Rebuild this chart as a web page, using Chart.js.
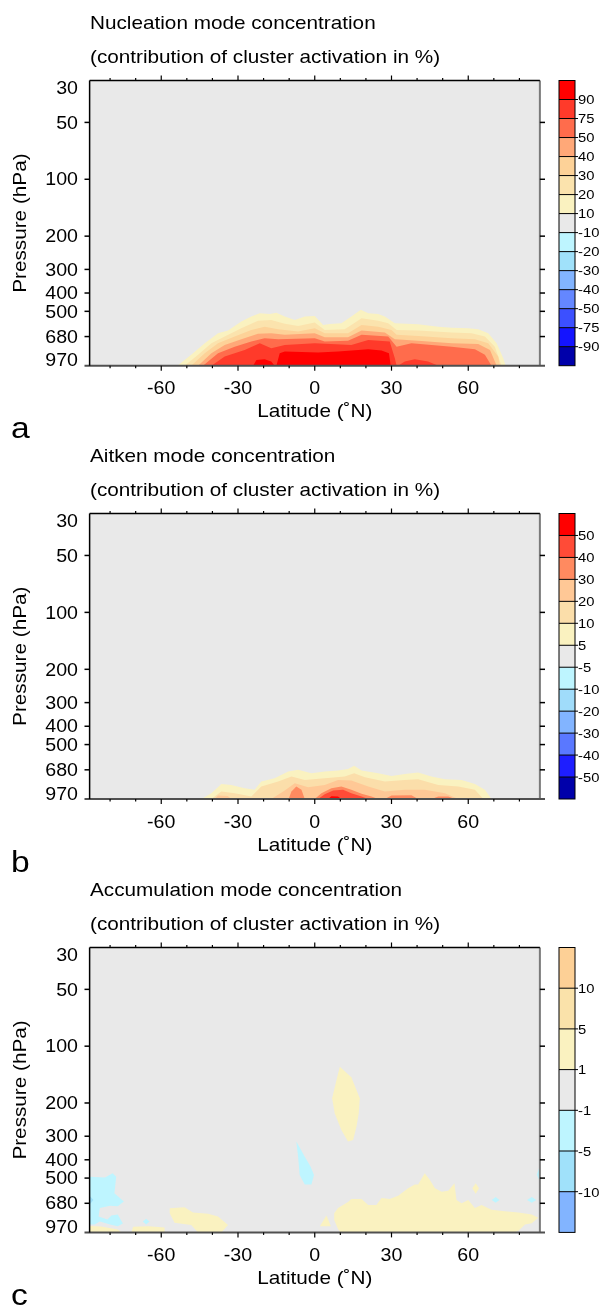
<!DOCTYPE html>
<html><head><meta charset="utf-8">
<script src="https://cdn.jsdelivr.net/npm/chart.js@4.4.1/dist/chart.umd.min.js"></script>
<style>
html,body{margin:0;padding:0;background:#fff;}
#wrap{position:relative;width:603px;height:1306px;overflow:hidden;background:#fff;}
canvas{position:absolute;left:0;}
</style></head><body>
<div id="wrap">
<canvas id="ca" width="603" height="448" style="top:0px"></canvas>
<canvas id="cb" width="603" height="448" style="top:433px"></canvas>
<canvas id="cc" width="603" height="439" style="top:867px"></canvas>
</div>
<script>
// ---------- axes ----------
const LAT_RANGE = [-90, 90];
const LAT_DOMAIN = [-88, 88];
const P_RANGE = [30, 970];
const Y_TICKS = [30, 50, 100, 200, 300, 400, 500, 680, 970];
const X_TICKS = [-60, -30, 0, 30, 60];
const X_MINOR_STEP = 10;

// ---------- panel a: nucleation mode (contour polygons: [lat, hPa]) ----------
const A_TITLE = ['Nucleation mode concentration', '(contribution of cluster activation in %)'];
const A_CB_LABELS = ['90','75','50','40','30','20','10','-10','-20','-30','-40','-50','-75','-90'];
const A_CB_COLORS = ['#ff0000','#ff3a2a','#ff6c4c','#ffa878','#fdd298','#fbe3ad','#faf2c0','#e9e9e9','#bef5ff','#a0e1fa','#82b4ff','#6487ff','#3c50ff','#1414ff','#0000aa'];
const NUC_10 = [[-53.7,970],[-48.3,850],[-43,738],[-37.8,653],[-33.9,632],[-28.7,566],[-24.8,533],[-21.5,512],[-17.6,516],[-15,508],[-11.7,533],[-7.8,555],[-3.9,533],[0,529],[3.3,590],[5.9,584],[10.4,578],[14.3,533],[18,491],[20.9,512],[24.8,516],[27.4,533],[31.3,578],[40.4,585],[48.3,603],[53.5,610],[60,615],[63.9,622],[67.8,653],[71.1,738],[73.7,886],[74.6,970]];
const NUC_20 = [[-50.9,970],[-45.6,850],[-40.4,738],[-35.2,680],[-28.7,615],[-22.2,560],[-17,555],[-11.7,582],[-6.5,598],[0,573],[3.9,627],[11.7,622],[14.3,590],[18.3,544],[24.8,560],[28.7,578],[32,627],[40.4,632],[53.5,648],[61.3,653],[66.5,680],[70.4,769],[73,970]];
const NUC_30 = [[-48.3,970],[-43,833],[-37.8,738],[-31.3,680],[-24.8,627],[-19.6,603],[-14.3,622],[-6.5,640],[0,615],[3.9,653],[13,653],[18.3,590],[24.8,603],[30,627],[32,666],[40.4,675],[53.5,694],[62.6,702],[67.8,738],[71.7,868],[72.4,970]];
const NUC_40 = [[-45.6,970],[-40.4,833],[-35.2,753],[-28.7,703],[-22.2,658],[-17,653],[-11.7,666],[0,653],[3.9,686],[13,686],[18.3,632],[27.4,648],[31.3,703],[40.4,715],[53.5,738],[63.9,744],[68.5,800],[71.1,970]];
const NUC_50 = [[-43.7,970],[-37.8,833],[-31.3,769],[-24.8,723],[-19.6,694],[-14.3,703],[0,694],[3.9,723],[13,715],[18.3,666],[28.7,680],[32,769],[37.8,738],[53.5,769],[62.6,794],[66.5,850],[69.1,970]];
const NUC_75_A = [[-40.4,970],[-35.2,868],[-27.4,800],[-21.5,738],[-17,784],[-11.7,753],[0,738],[14.3,753],[20.9,709],[29.3,723],[31.3,886],[32,970]];
const NUC_75_B = [[32.6,970],[35.2,922],[39.1,897],[44.3,922],[48.3,970]];
const NUC_90_A = [[-15,970],[-13.7,833],[-11.7,816],[1.3,826],[9.1,816],[17,800],[20.9,794],[26.1,806],[29,833],[29.7,970]];
const NUC_90_B = [[-24.1,970],[-22.8,904],[-19.6,897],[-17,922],[-15.7,970]];

// ---------- panel b: Aitken mode ----------
const B_TITLE = ['Aitken mode concentration', '(contribution of cluster activation in %)'];
const B_CB_LABELS = ['50','40','30','20','10','5','-5','-10','-20','-30','-40','-50'];
const B_CB_COLORS = ['#ff0000','#ff4b37','#ff8a60','#ffc896','#fbdeaa','#faf2c0','#e9e9e9','#bef5ff','#a0dcfa','#82b4ff','#5a78ff','#1e1eff','#0000aa'];
const AIT_5 = [[-44.3,970],[-40.4,904],[-36.5,807],[-32.6,817],[-27.4,850],[-23.5,868],[-20.9,784],[-15.7,753],[-10.4,694],[-6.5,680],[-1.3,709],[3.9,694],[9.1,686],[13,674],[15.4,648],[18.3,686],[24.8,709],[30,732],[35.2,715],[40.4,703],[45.6,738],[50.9,763],[57.4,769],[62.6,807],[66.5,868],[69.1,970]];
const AIT_10 = [[-40.4,970],[-36.5,886],[-31.3,904],[-24.8,941],[-20.9,833],[-14.3,784],[-9.1,738],[-3.9,769],[3.9,753],[11.7,738],[15.4,709],[19.6,744],[27.4,784],[35.2,769],[40.4,763],[48.3,817],[56.1,833],[62.6,868],[65.9,970]];
const AIT_20_A = [[-17,970],[-12,880],[-7.8,800],[-2.6,840],[3.9,817],[9.1,769],[14.3,775],[20.9,833],[27.4,886],[35.2,868],[43,868],[50.9,904],[56.1,970]];
const AIT_20_B = [[-39.1,970],[-37.8,930],[-34,935],[-32.6,970]];
const AIT_30_A = [[-10.2,970],[-9.1,886],[-7.2,833],[-5.2,868],[-3.9,970]];
const AIT_30_B = [[0,970],[2.6,904],[6.5,850],[10.4,833],[14.3,868],[18.3,911],[22.2,941],[24.8,970]];
const AIT_30_C = [[27.4,970],[30,930],[37.8,926],[40.4,970]];
const AIT_30_D = [[45.6,970],[48.3,941],[52.2,941],[54.8,970]];
const AIT_40 = [[1.3,970],[3.9,915],[7.2,875],[11.1,868],[14.3,904],[18.3,941],[20.9,970]];
const AIT_50 = [[5.2,970],[6.5,937],[9.1,941],[10.4,970]];

// ---------- panel c: accumulation mode ----------
const C_TITLE = ['Accumulation mode concentration', '(contribution of cluster activation in %)'];
const C_CB_LABELS = ['10','5','1','-1','-5','-10'];
const C_CB_COLORS = ['#fdd096','#fae2aa','#faf2c0','#e9e9e9','#bef5ff','#a0e1fa','#82b4ff'];
const ACC_P1_TROPO = [[6.8,189],[8.5,151],[9.8,128.6],[14.3,146],[17.6,189],[17.2,227],[16.3,267],[15,314],[13,320],[10.4,278],[7.8,227]];
const ACC_P1_NH = [[7.6,768],[9.1,720],[13,670],[14.3,645],[18.3,645],[20.9,694],[24.1,694],[26.1,638],[29.3,645],[32.6,620],[36.5,566],[39.1,541],[40.4,541],[43,472],[45,512],[47,566],[49.6,590],[52.2,584],[54.6,533],[55.4,653],[57.4,680],[60,653],[62.6,720],[65.2,694],[69.1,735],[74.3,750],[79.6,760],[84.8,780],[87.4,812],[84.8,868],[82.2,880],[79.6,950],[78,970],[10,970],[9.1,930],[7.6,833]];
const ACC_P1_TRI = [[2,900],[4.6,790],[6.3,900]];
const ACC_P1_DIAM = [[61.6,566],[62.9,533],[64.2,566],[62.9,605]];
const ACC_P1_SH1 = [[-56.7,722],[-50.9,714],[-47.6,762],[-41.7,772],[-37.8,800],[-33.9,886],[-36.5,970],[-45.6,970],[-48.3,886],[-54.8,862],[-56.7,768]];
const ACC_P1_SH2 = [[-71.7,970],[-71,905],[-65,900],[-58.7,915],[-58.7,970]];
const ACC_P1_SH3 = [[-88,970],[-88,898],[-83.5,904],[-77,935],[-75.5,970]];
const ACC_N1_MID = [[-7.2,320],[-3.9,385],[-1.6,435],[-0.3,481],[-1.3,540],[-3.9,540],[-5.9,481],[-6.5,385]];
const ACC_N1_SP = [[-88,492],[-82,496],[-79,472],[-77.6,492],[-78.3,602],[-74.6,665],[-77,705],[-80,700],[-84,720],[-84.5,800],[-81,830],[-79.5,790],[-77,780],[-75,870],[-77,900],[-80,880],[-84,850],[-86,880],[-88,880]];
const ACC_N1_D1 = [[-67.2,850],[-65.9,820],[-64.6,850],[-65.9,880]];
const ACC_N1_D2 = [[69.2,653],[70.7,630],[72.2,653],[70.7,675]];
const ACC_N1_D3 = [[83,653],[84.8,630],[86.6,653],[84.8,675]];
const ACC_N1_EDGE = [[88,430],[86.8,480],[88,520]];
const ACC_N5_SP = [[-88,620],[-86.5,653],[-88,690]];

// ---------- panels ----------
const PANELS = [
  {id:'ca', letter:'a', title:A_TITLE, cbLabels:A_CB_LABELS, cbColors:A_CB_COLORS, bottom:365.7,
   polys:[[NUC_10,6],[NUC_20,5],[NUC_30,4],[NUC_40,3],[NUC_50,2],[NUC_75_A,1],[NUC_75_B,1],[NUC_90_A,0],[NUC_90_B,0]]},
  {id:'cb', letter:'b', title:B_TITLE, cbLabels:B_CB_LABELS, cbColors:B_CB_COLORS, bottom:366,
   polys:[[AIT_5,5],[AIT_10,4],[AIT_20_A,3],[AIT_20_B,3],[AIT_30_A,2],[AIT_30_B,2],[AIT_30_C,2],[AIT_30_D,2],[AIT_40,1],[AIT_50,0]]},
  {id:'cc', letter:'c', title:C_TITLE, cbLabels:C_CB_LABELS, cbColors:C_CB_COLORS, bottom:365.4,
   polys:[[ACC_P1_TROPO,2],[ACC_P1_NH,2],[ACC_P1_TRI,2],[ACC_P1_DIAM,2],[ACC_P1_SH1,2],[ACC_P1_SH2,2],[ACC_P1_SH3,2],
          [ACC_N1_MID,4],[ACC_N1_SP,4],[ACC_N1_D1,4],[ACC_N1_D2,4],[ACC_N1_D3,4],[ACC_N1_EDGE,4],[ACC_N5_SP,5]]}
];

const FONT = '"Liberation Sans", Arial, Helvetica, sans-serif';
const SX = 1.12;
const FIELD_BG = '#e9e9e9';

function txt(ctx, s, x, y, size, align, rot) {
  ctx.save();
  ctx.font = size + 'px ' + FONT;
  ctx.translate(x, y);
  if (rot) ctx.rotate(rot);
  ctx.scale(SX, 1);
  ctx.textAlign = align || 'left';
  ctx.textBaseline = 'alphabetic';
  ctx.fillStyle = '#000';
  ctx.fillText(s, 0, 0);
  ctx.restore();
}
function seg(ctx, x0, y0, x1, y1) { ctx.beginPath(); ctx.moveTo(x0, y0); ctx.lineTo(x1, y1); ctx.stroke(); }

function makePlugin(panel) {
  return {
    id: 'frame_' + panel.id,
    beforeDatasetsDraw(chart) {
      const {ctx, chartArea: a, scales: {x}} = chart;
      const x0 = x.getPixelForValue(LAT_DOMAIN[0]), x1 = x.getPixelForValue(LAT_DOMAIN[1]);
      ctx.save(); ctx.fillStyle = FIELD_BG; ctx.fillRect(x0, a.top, x1 - x0, a.bottom - a.top); ctx.restore();
    },
    afterDraw(chart) {
      const {ctx, chartArea: a, scales: {x, y}} = chart;
      const T = a.top, B = a.bottom, XL = a.left, XR = a.right;
      const L = x.getPixelForValue(LAT_DOMAIN[0]), R = x.getPixelForValue(LAT_DOMAIN[1]);
      ctx.save();
      ctx.lineCap = 'butt';
      ctx.strokeStyle = '#7a7a7a'; ctx.lineWidth = 2;
      seg(ctx, R, T, R, B);
      ctx.strokeStyle = '#505050'; ctx.lineWidth = 2;
      seg(ctx, XL, B, XR, B);
      ctx.strokeStyle = '#000'; ctx.lineWidth = 1.5;
      seg(ctx, L, T, L, B);
      seg(ctx, L, T, R, T);
      ctx.lineWidth = 1.5;
      Y_TICKS.forEach(p => {
        if (p === P_RANGE[0] || p === P_RANGE[1]) return;
        const yy = y.getPixelForValue(p);
        seg(ctx, XL, yy, L, yy);
        seg(ctx, R, yy, XR, yy);
      });
      ctx.lineWidth = 1.2;
      for (let lat = LAT_RANGE[0] + X_MINOR_STEP; lat < LAT_RANGE[1]; lat += X_MINOR_STEP) {
        const xx = x.getPixelForValue(lat);
        const len = (lat % 30 === 0) ? 5 : 2.5;
        seg(ctx, xx, B, xx, B + len);
        seg(ctx, xx, T, xx, T - len);
      }
      Y_TICKS.forEach(p => {
        let yy = y.getPixelForValue(p);
        yy = Math.min(Math.max(yy, T + 6.9), B - 5.7);
        txt(ctx, String(p), 78, yy + 6.2, 17.5, 'right');
      });
      X_TICKS.forEach(v => txt(ctx, String(v), x.getPixelForValue(v), B + 28.5, 17.5, 'center'));
      txt(ctx, 'Latitude (˚N)', (XL + XR) / 2, B + 51.5, 18.5, 'center');
      txt(ctx, 'Pressure (hPa)', 25.6, (T + B) / 2, 18.5, 'center', -Math.PI / 2);
      txt(ctx, panel.title[0], 90, T - 51.2, 18.5, 'left');
      txt(ctx, panel.title[1], 90, T - 17.3, 18.5, 'left');
      txt(ctx, panel.letter, 11, B + 72.7, 30, 'left');
      const cx0 = 559, cx1 = 575, n = panel.cbColors.length, h = (B - T) / n;
      panel.cbColors.forEach((c, i) => { ctx.fillStyle = c; ctx.fillRect(cx0, T + i * h, cx1 - cx0, h); });
      ctx.strokeStyle = '#000'; ctx.lineWidth = 1;
      for (let i = 1; i < n; i++) seg(ctx, cx0, T + i * h, cx1 + 3, T + i * h);
      ctx.strokeRect(cx0, T, cx1 - cx0, B - T);
      panel.cbLabels.forEach((s, i) => txt(ctx, s, 578, T + (i + 1) * h + 4.8, 13.2, 'left'));
      ctx.restore();
    }
  };
}

PANELS.forEach(panel => {
  const cv = document.getElementById(panel.id);
  const H = cv.height;
  const datasets = panel.polys.map(([pts, ci], i) => ({
    data: pts.map(([lat, p]) => ({x: lat, y: p})),
    backgroundColor: panel.cbColors[ci],
    borderColor: 'rgba(0,0,0,0)',
    borderWidth: 0,
    pointRadius: 0,
    tension: 0,
    fill: 'shape',
    order: panel.polys.length - i
  }));
  new Chart(cv, {
    type: 'line',
    data: {datasets},
    options: {
      responsive: false, animation: false, devicePixelRatio: 1, events: [],
      layout: {padding: {left: 84.5, right: 58, top: 80.5, bottom: H - panel.bottom}},
      scales: {
        x: {type: 'linear', min: LAT_RANGE[0], max: LAT_RANGE[1], display: false},
        y: {type: 'logarithmic', min: P_RANGE[0], max: P_RANGE[1], reverse: true, display: false}
      },
      plugins: {legend: {display: false}, tooltip: {enabled: false}}
    },
    plugins: [makePlugin(panel)]
  });
});
</script>
</body></html>
